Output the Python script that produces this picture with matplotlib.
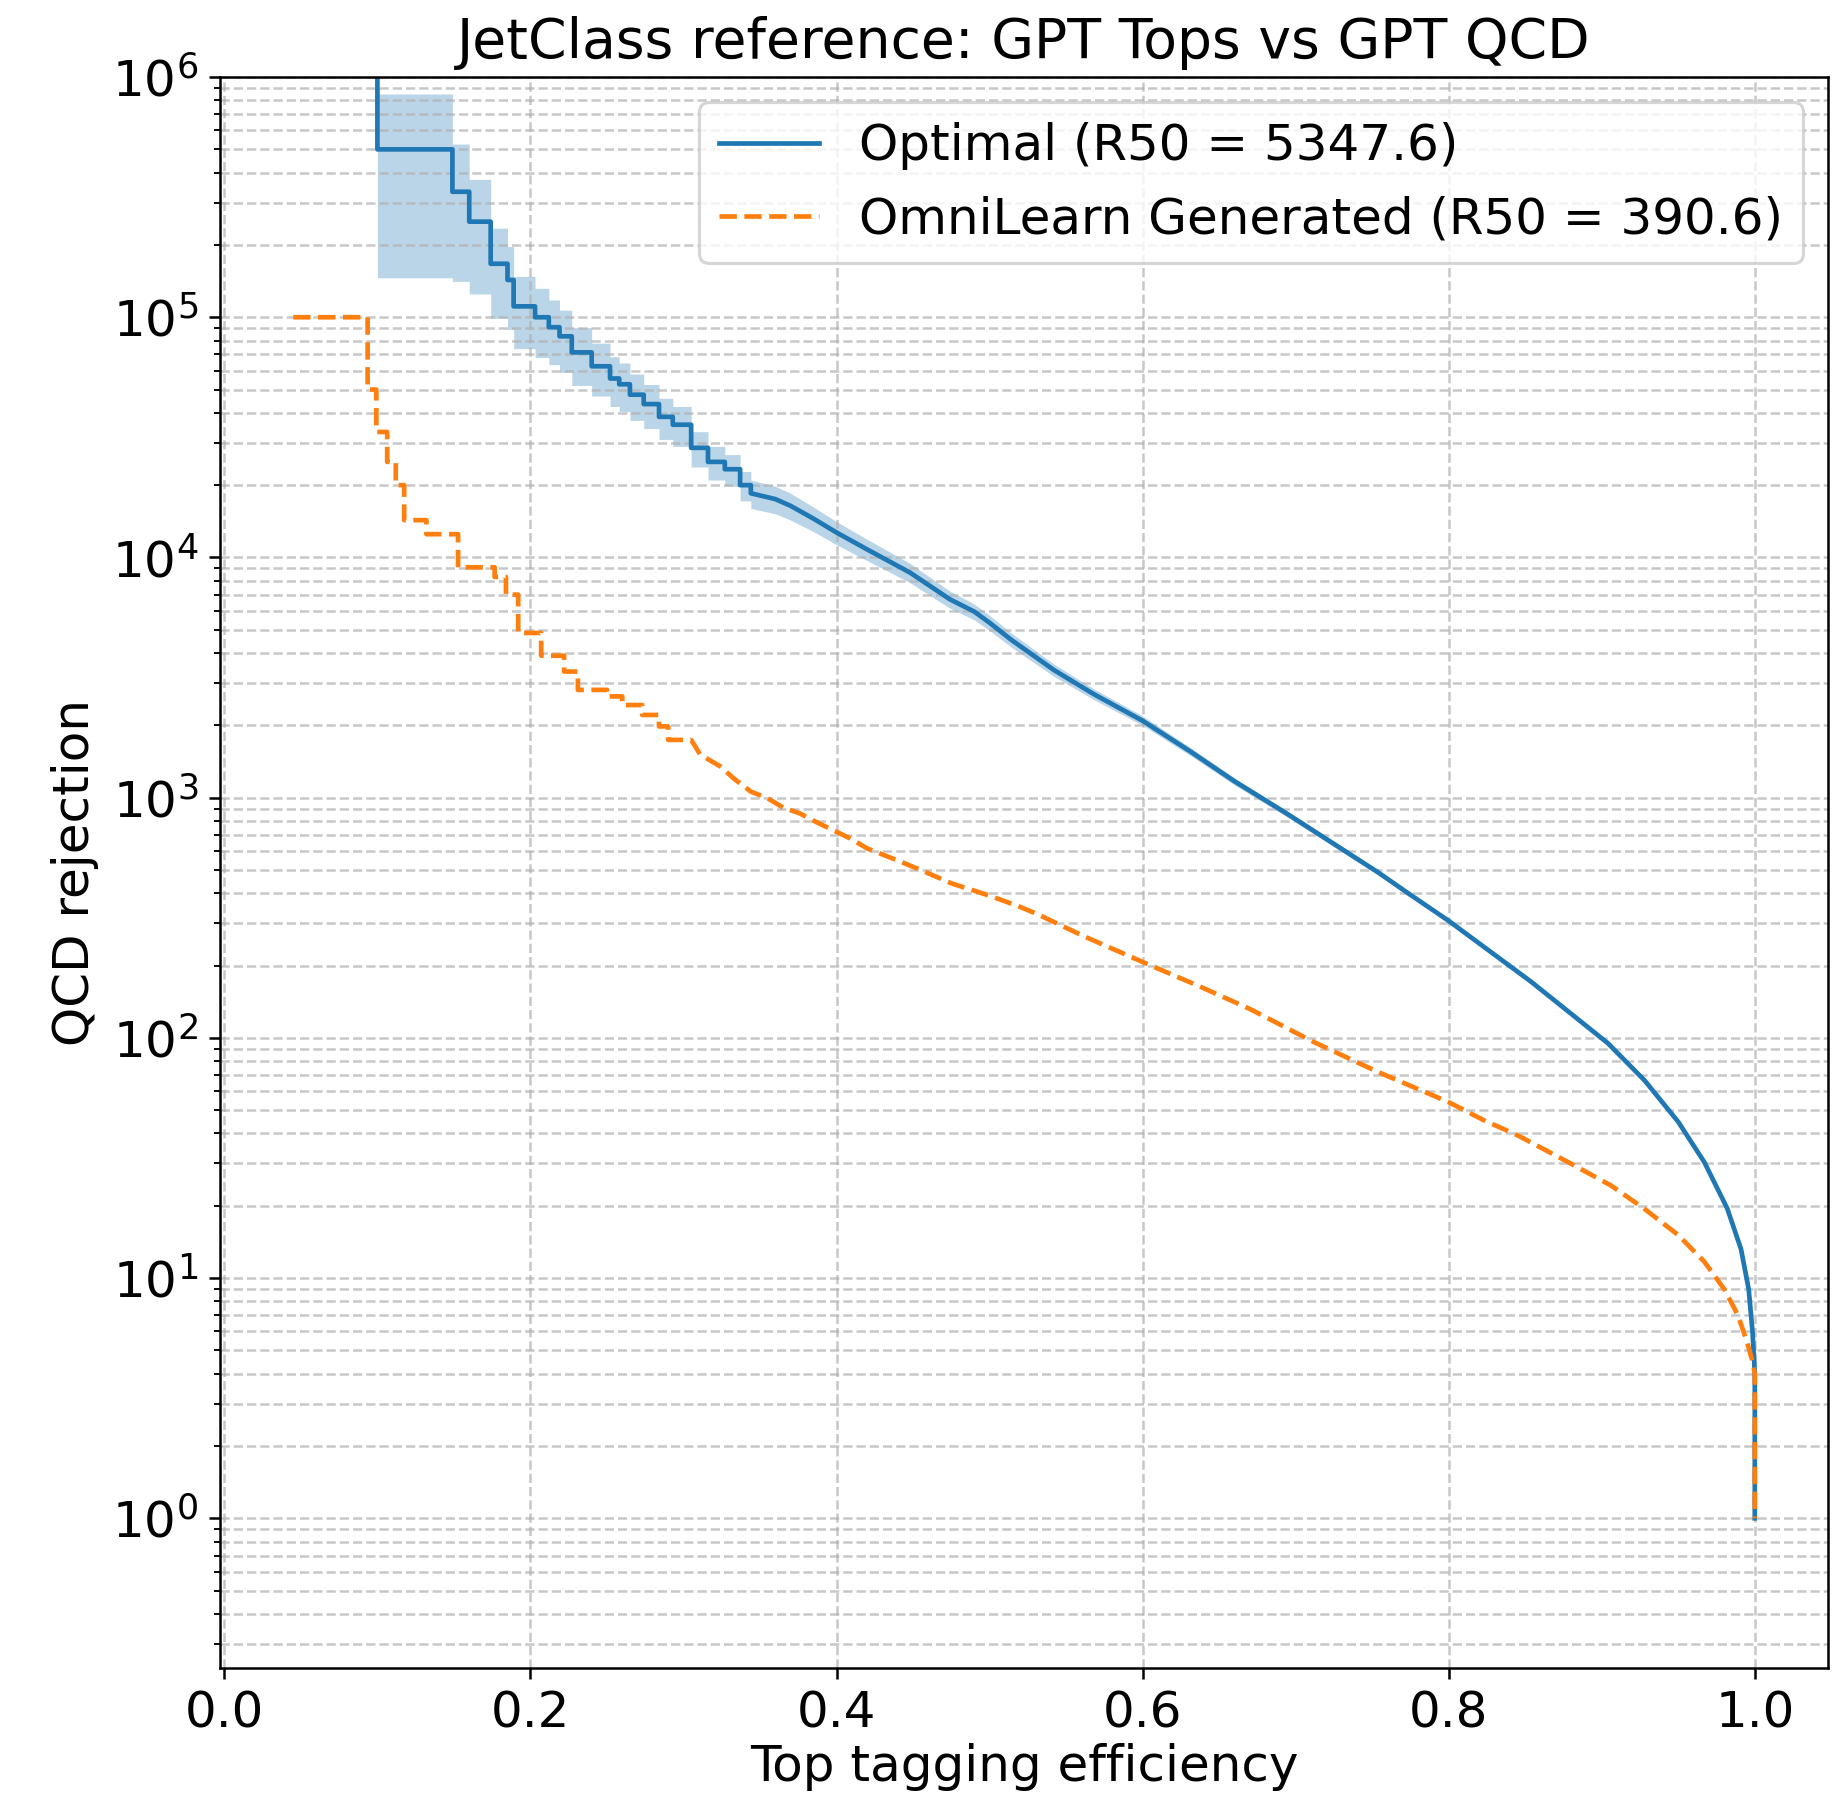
import numpy as np
import matplotlib
matplotlib.use("Agg")
import matplotlib.pyplot as plt

plt.rcParams["font.size"] = 16

# R50 = rejection at 50% signal efficiency
r50_optimal = 5347.6
r50_generated = 390.6

# Optimal classifier, low efficiency: only a handful of QCD jets pass -> staircase
opt_top_rej = 1e12          # first ROC point (fpr = 0) goes off the top
opt_band_floor = 0.5
opt_step_eff = [0.100, 0.149, 0.160, 0.174, 0.185, 0.189, 0.203, 0.212, 0.219, 0.227, 0.240,
                0.252, 0.258, 0.265, 0.274, 0.284, 0.293, 0.305, 0.316, 0.327, 0.337, 0.344]
opt_step_rej = [5.0e5, 3.33e5, 2.5e5, 1.67e5, 1.43e5, 1.11e5, 1.0e5, 9.09e4, 8.33e4, 7.14e4, 6.25e4,
                5.56e4, 5.26e4, 4.76e4, 4.35e4, 3.85e4, 3.57e4, 2.86e4, 2.5e4, 2.33e4, 2.0e4, 1.85e4]
opt_step_lo = [1.46e5, 1.41e5, 1.25e5, 0.99e5, 0.89e5, 0.74e5, 6.8e4, 6.35e4, 5.9e4, 5.2e4, 4.7e4,
               4.25e4, 4.05e4, 3.72e4, 3.44e4, 3.1e4, 2.9e4, 2.38e4, 2.1e4, 1.98e4, 1.72e4, 1.6e4]
opt_step_hi = [8.5e5, 5.26e5, 3.75e5, 2.35e5, 1.97e5, 1.48e5, 1.32e5, 1.18e5, 1.07e5, 9.05e4, 7.8e4,
               6.85e4, 6.45e4, 5.8e4, 5.25e4, 4.6e4, 4.25e4, 3.34e4, 2.9e4, 2.68e4, 2.28e4, 2.1e4]

# Optimal classifier, rest of the curve
opt_eff = [0.360, 0.370, 0.385, 0.400, 0.420, 0.448, 0.474, 0.490, 0.500, 0.514, 0.542,
           0.568, 0.600, 0.631, 0.660, 0.694, 0.724, 0.754, 0.774, 0.800, 0.854, 0.880,
           0.904, 0.928, 0.950, 0.967, 0.982, 0.991, 0.996, 0.9985, 0.9996, 1.000, 1.000]
opt_rej = [1.75e4, 1.64e4, 1.45e4, 1.27e4, 1.08e4, 8.65e3, 6.7e3, 5.95e3, r50_optimal, 4.55e3, 3.4e3,
           2.7e3, 2.09e3, 1.56e3, 1.17e3, 860, 648, 488, 398, 307, 171, 126,
           95, 66.5, 44.7, 30.4, 19.5, 13.2, 9.0, 6.0, 4.5, 4.0, 1.0]
opt_lo = [1.52e4, 1.43e4, 1.28e4, 1.13e4, 9.7e3, 7.85e3, 6.15e3, 5.5e3, 4.96e3, 4.24e3, 3.2e3,
          2.56e3, 2.0e3, 1.5e3, 1.13e3, 835, 631, 477, 390, 302, 169, 124.6,
          94, 66.0, 44.4, 30.2, 19.4, 13.2, 9.0, 6.0, 4.5, 4.0, 1.0]
opt_hi = [1.98e4, 1.85e4, 1.62e4, 1.41e4, 1.19e4, 9.45e3, 7.25e3, 6.4e3, 5.74e3, 4.86e3, 3.6e3,
          2.84e3, 2.19e3, 1.62e3, 1.21e3, 885, 665, 499, 406, 312, 173, 127.4,
          96, 67.0, 45.0, 30.6, 19.6, 13.2, 9.0, 6.0, 4.5, 4.0, 1.0]

# OmniLearn generated sample
gen_step_eff = [0.045, 0.0936, 0.0993, 0.1064, 0.112, 0.1175, 0.132, 0.1527, 0.1766, 0.184,
                0.192, 0.207, 0.222, 0.231, 0.250, 0.260, 0.273, 0.284, 0.290]
gen_step_rej = [1.0e5, 5.0e4, 3.33e4, 2.5e4, 2.0e4, 1.43e4, 1.25e4, 9.1e3, 8.3e3, 7.0e3,
                4.85e3, 3.9e3, 3.35e3, 2.81e3, 2.64e3, 2.43e3, 2.21e3, 1.98e3, 1.74e3]
gen_eff = [0.305, 0.311, 0.324, 0.333, 0.344, 0.355, 0.365, 0.376, 0.387, 0.400, 0.409, 0.420,
           0.442, 0.455, 0.475, 0.492, 0.500, 0.518, 0.531, 0.561, 0.600, 0.638,
           0.670, 0.712, 0.754, 0.800, 0.823, 0.845, 0.878, 0.906, 0.928, 0.950,
           0.967, 0.980, 0.989, 0.995, 0.9985, 1.000, 1.000]
gen_rej = [1.74e3, 1.51e3, 1.35e3, 1.2e3, 1.06e3, 994, 910, 860, 790, 721, 676, 615,
           541, 500, 440, 406, r50_generated, 355, 328, 266, 207, 163,
           132, 96, 72, 54, 45.4, 39.3, 30.4, 24.3, 19.4, 15.1,
           11.7, 9.0, 7.0, 5.4, 4.5, 4.0, 1.0]


def stairs(eff, *vals):
    # turn (x, y) step points into explicit corner vertices (steps-post)
    x = np.repeat(eff, 2)[1:]
    return [x] + [np.repeat(v, 2)[:-1] for v in vals]


sx, sy, slo, shi = stairs(opt_step_eff, opt_step_rej, opt_step_lo, opt_step_hi)
opt_x = np.concatenate([[opt_step_eff[0]], sx, opt_eff])
opt_y = np.concatenate([[opt_top_rej], sy, opt_rej])
band_lo = np.concatenate([[opt_band_floor], slo, opt_lo])
band_hi = np.concatenate([[opt_step_hi[0]], shi, opt_hi])

gx, gy = stairs(gen_step_eff, gen_step_rej)
gen_x = np.concatenate([gx, gen_eff])
gen_y = np.concatenate([gy, gen_rej])

fig = plt.figure(figsize=(1834 / 225, 1800 / 225), dpi=225)
ax = fig.add_axes([0.120, 0.0733, 0.8767, 0.8839])

ax.fill_between(opt_x, band_lo, band_hi, color="C0", alpha=0.3, linewidth=0)
ax.plot(opt_x, opt_y, color="C0", lw=1.5, label=f"Optimal (R50 = {r50_optimal:.1f})")
ax.plot(gen_x, gen_y, color="C1", lw=1.5, ls="--",
        label=f"OmniLearn Generated (R50 = {r50_generated:.1f})")

ax.set_yscale("log")
ax.set_xlim(-0.0028, 1.0478)
ax.set_ylim(0.238, 1e6)
ax.set_xticks([0.0, 0.2, 0.4, 0.6, 0.8, 1.0])
ax.grid(True, which="both", ls="--", alpha=0.7)

ax.set_xlabel("Top tagging efficiency", labelpad=1.5)
ax.set_ylabel("QCD rejection")
ax.set_title("JetClass reference: GPT Tops vs GPT QCD", fontsize=17.7)
ax.legend(loc="upper right")

fig.savefig("out.png", dpi=225)
